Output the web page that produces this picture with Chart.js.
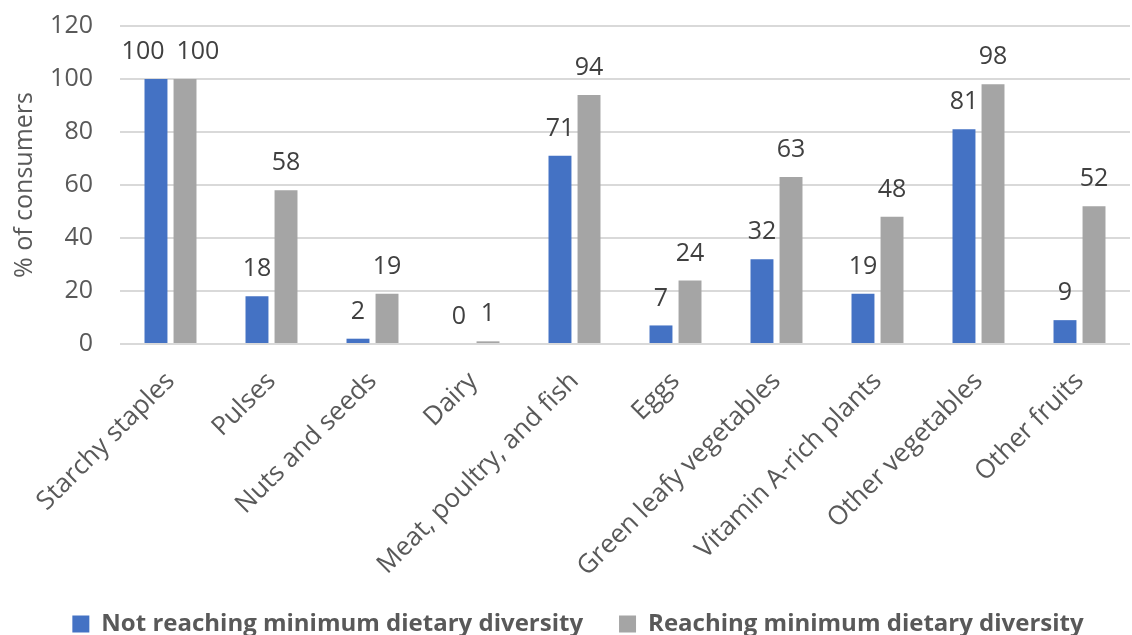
<!DOCTYPE html>
<html>
<head>
<meta charset="utf-8">
<script src="https://cdn.jsdelivr.net/npm/chart.js@4.4.1/dist/chart.umd.min.js"></script>
<style>
  html, body { margin: 0; padding: 0; background: #ffffff; }
  #wrap { width: 1132px; height: 635px; position: relative; }
</style>
</head>
<body>
<div id="wrap"><canvas id="chart"></canvas></div>
<script>
// Food groups consumed, by dietary diversity status
const categories = [
  'Starchy staples', 'Pulses', 'Nuts and seeds', 'Dairy',
  'Meat, poultry, and fish', 'Eggs', 'Green leafy vegetables',
  'Vitamin A-rich plants', 'Other vegetables', 'Other fruits'
];
const notReaching = [100, 18, 2, 0, 71, 7, 32, 19, 81, 9];
const reaching = [100, 58, 19, 1, 94, 24, 63, 48, 98, 52];
const yTicks = [0, 20, 40, 60, 80, 100, 120];

const FONT = '"Open Sans", "DejaVu Sans", sans-serif';
const TEXT = '#595959';

// Writes each bar's value just above it; pairs that would collide are pushed apart
const valueLabels = {
  id: 'valueLabels',
  afterDatasetsDraw(chart) {
    const ctx = chart.ctx;
    ctx.save();
    ctx.font = '25px ' + FONT;
    ctx.fillStyle = '#404040';
    ctx.textAlign = 'center';
    ctx.textBaseline = 'middle';
    const m0 = chart.getDatasetMeta(0).data;
    const m1 = chart.getDatasetMeta(1).data;
    const d0 = chart.data.datasets[0].data;
    const d1 = chart.data.datasets[1].data;
    const gap = 12;
    for (let j = 0; j < categories.length; j++) {
      const t0 = String(d0[j]), t1 = String(d1[j]);
      const w0 = ctx.measureText(t0).width, w1 = ctx.measureText(t1).width;
      let x0 = m0[j].x, x1 = m1[j].x;
      const y0 = m0[j].y - 27, y1 = m1[j].y - 27;
      if (Math.abs(y0 - y1) < 28) {
        const overlap = (x0 + w0 / 2 + gap) - (x1 - w1 / 2);
        if (overlap > 0) { x0 -= overlap / 2; x1 += overlap / 2; }
      }
      ctx.fillText(t0, x0, y0);
      ctx.fillText(t1, x1, y1);
    }
    ctx.restore();
  }
};

new Chart(document.getElementById('chart'), {
  type: 'bar',
  data: {
    labels: categories,
    datasets: [
      {
        label: 'Not reaching minimum dietary diversity',
        data: notReaching,
        backgroundColor: '#4472C4',
        categoryPercentage: 0.575,
        barPercentage: 0.79
      },
      {
        label: 'Reaching minimum dietary diversity',
        data: reaching,
        backgroundColor: '#A5A5A5',
        categoryPercentage: 0.575,
        barPercentage: 0.79
      }
    ]
  },
  options: {
    responsive: true,
    maintainAspectRatio: false,
    animation: false,
    layout: { padding: { top: 26, right: 2, left: 26, bottom: -11 } },
    plugins: {
      tooltip: { enabled: false },
      legend: {
        position: 'bottom',
        labels: {
          color: TEXT,
          font: { family: FONT, size: 24, weight: 'bold', lineHeight: 0.7 },
          boxWidth: 17,
          boxHeight: 17,
          padding: 36
        }
      }
    },
    scales: {
      x: {
        grid: { display: false },
        border: { display: false },
        ticks: {
          color: TEXT,
          font: { family: FONT, size: 26 },
          maxRotation: 45,
          minRotation: 45,
          padding: 14
        },
        afterFit(scale) {
          scale.height = 232;
          scale.paddingLeft = 0;
          scale.paddingRight = 0;
        }
      },
      y: {
        min: 0,
        max: 120,
        afterBuildTicks(scale) { scale.ticks = yTicks.map(v => ({ value: v })); },
        grid: { color: '#D9D9D9', lineWidth: 2, drawTicks: false },
        border: { display: false },
        ticks: {
          color: TEXT,
          font: { family: FONT, size: 25 },
          padding: 27
        },
        title: {
          display: true,
          text: '% of consumers',
          color: TEXT,
          font: { family: FONT, size: 25 },
          padding: { top: -16, bottom: 0 }
        },
        afterFit(scale) {
          scale.width = 94;
          scale.paddingTop = 0;
          scale.paddingBottom = 0;
        }
      }
    }
  },
  plugins: [valueLabels]
});
</script>
</body>
</html>
